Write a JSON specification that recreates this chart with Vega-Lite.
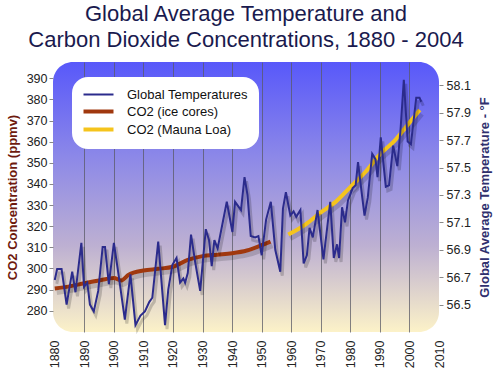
{
  "$schema": "https://vega.github.io/schema/vega-lite/v6.json",
  "width": 386,
  "height": 270,
  "autosize": "none",
  "padding": {"left": 53, "top": 62, "right": 61, "bottom": 48},
  "background": "white",
  "title": {
    "text": ["Global Average Temperature and", "Carbon Dioxide Concentrations, 1880 - 2004"],
    "fontSize": 22,
    "font": "Liberation Sans",
    "fontWeight": "normal",
    "color": "#1a1a4e",
    "lineHeight": 26.5,
    "offset": 10,
    "anchor": "middle"
  },
  "datasets": {
    "temp": [
      {"year": 1880.0, "temp": 56.68, "series": "Global Temperatures"},
      {"year": 1880.8, "temp": 56.76, "series": "Global Temperatures"},
      {"year": 1882.3, "temp": 56.76, "series": "Global Temperatures"},
      {"year": 1884.0, "temp": 56.50, "series": "Global Temperatures"},
      {"year": 1885.9, "temp": 56.74, "series": "Global Temperatures"},
      {"year": 1887.0, "temp": 56.59, "series": "Global Temperatures"},
      {"year": 1889.0, "temp": 56.95, "series": "Global Temperatures"},
      {"year": 1889.9, "temp": 56.63, "series": "Global Temperatures"},
      {"year": 1891.0, "temp": 56.66, "series": "Global Temperatures"},
      {"year": 1891.9, "temp": 56.50, "series": "Global Temperatures"},
      {"year": 1893.2, "temp": 56.45, "series": "Global Temperatures"},
      {"year": 1894.7, "temp": 56.60, "series": "Global Temperatures"},
      {"year": 1896.2, "temp": 56.92, "series": "Global Temperatures"},
      {"year": 1897.0, "temp": 56.92, "series": "Global Temperatures"},
      {"year": 1898.3, "temp": 56.65, "series": "Global Temperatures"},
      {"year": 1900.0, "temp": 56.95, "series": "Global Temperatures"},
      {"year": 1901.5, "temp": 56.73, "series": "Global Temperatures"},
      {"year": 1903.7, "temp": 56.39, "series": "Global Temperatures"},
      {"year": 1905.6, "temp": 56.72, "series": "Global Temperatures"},
      {"year": 1907.3, "temp": 56.35, "series": "Global Temperatures"},
      {"year": 1909.0, "temp": 56.42, "series": "Global Temperatures"},
      {"year": 1910.5, "temp": 56.45, "series": "Global Temperatures"},
      {"year": 1912.0, "temp": 56.52, "series": "Global Temperatures"},
      {"year": 1913.0, "temp": 56.55, "series": "Global Temperatures"},
      {"year": 1915.0, "temp": 56.96, "series": "Global Temperatures"},
      {"year": 1917.3, "temp": 56.35, "series": "Global Temperatures"},
      {"year": 1918.4, "temp": 56.61, "series": "Global Temperatures"},
      {"year": 1919.8, "temp": 56.79, "series": "Global Temperatures"},
      {"year": 1921.2, "temp": 56.84, "series": "Global Temperatures"},
      {"year": 1922.4, "temp": 56.66, "series": "Global Temperatures"},
      {"year": 1923.5, "temp": 56.69, "series": "Global Temperatures"},
      {"year": 1924.1, "temp": 56.66, "series": "Global Temperatures"},
      {"year": 1925.0, "temp": 56.73, "series": "Global Temperatures"},
      {"year": 1926.1, "temp": 57.01, "series": "Global Temperatures"},
      {"year": 1927.5, "temp": 56.81, "series": "Global Temperatures"},
      {"year": 1929.2, "temp": 56.60, "series": "Global Temperatures"},
      {"year": 1931.1, "temp": 57.05, "series": "Global Temperatures"},
      {"year": 1932.2, "temp": 56.97, "series": "Global Temperatures"},
      {"year": 1933.1, "temp": 56.78, "series": "Global Temperatures"},
      {"year": 1934.0, "temp": 56.97, "series": "Global Temperatures"},
      {"year": 1935.1, "temp": 56.91, "series": "Global Temperatures"},
      {"year": 1938.2, "temp": 57.25, "series": "Global Temperatures"},
      {"year": 1940.1, "temp": 57.03, "series": "Global Temperatures"},
      {"year": 1941.0, "temp": 57.25, "series": "Global Temperatures"},
      {"year": 1943.0, "temp": 57.19, "series": "Global Temperatures"},
      {"year": 1944.2, "temp": 57.43, "series": "Global Temperatures"},
      {"year": 1945.2, "temp": 57.30, "series": "Global Temperatures"},
      {"year": 1946.3, "temp": 57.00, "series": "Global Temperatures"},
      {"year": 1947.8, "temp": 56.99, "series": "Global Temperatures"},
      {"year": 1948.9, "temp": 57.00, "series": "Global Temperatures"},
      {"year": 1950.0, "temp": 56.86, "series": "Global Temperatures"},
      {"year": 1951.5, "temp": 57.12, "series": "Global Temperatures"},
      {"year": 1953.1, "temp": 57.25, "series": "Global Temperatures"},
      {"year": 1954.6, "temp": 56.90, "series": "Global Temperatures"},
      {"year": 1956.3, "temp": 56.74, "series": "Global Temperatures"},
      {"year": 1957.2, "temp": 57.20, "series": "Global Temperatures"},
      {"year": 1958.2, "temp": 57.32, "series": "Global Temperatures"},
      {"year": 1959.7, "temp": 57.15, "series": "Global Temperatures"},
      {"year": 1960.8, "temp": 57.18, "series": "Global Temperatures"},
      {"year": 1961.7, "temp": 57.14, "series": "Global Temperatures"},
      {"year": 1963.1, "temp": 57.19, "series": "Global Temperatures"},
      {"year": 1964.2, "temp": 56.80, "series": "Global Temperatures"},
      {"year": 1965.3, "temp": 56.86, "series": "Global Temperatures"},
      {"year": 1966.2, "temp": 57.06, "series": "Global Temperatures"},
      {"year": 1967.3, "temp": 56.99, "series": "Global Temperatures"},
      {"year": 1968.9, "temp": 57.19, "series": "Global Temperatures"},
      {"year": 1970.9, "temp": 56.83, "series": "Global Temperatures"},
      {"year": 1973.2, "temp": 57.25, "series": "Global Temperatures"},
      {"year": 1974.4, "temp": 56.84, "series": "Global Temperatures"},
      {"year": 1975.5, "temp": 56.94, "series": "Global Temperatures"},
      {"year": 1976.2, "temp": 56.84, "series": "Global Temperatures"},
      {"year": 1977.2, "temp": 57.21, "series": "Global Temperatures"},
      {"year": 1978.2, "temp": 57.10, "series": "Global Temperatures"},
      {"year": 1979.2, "temp": 57.26, "series": "Global Temperatures"},
      {"year": 1980.8, "temp": 57.35, "series": "Global Temperatures"},
      {"year": 1981.8, "temp": 57.37, "series": "Global Temperatures"},
      {"year": 1982.6, "temp": 57.54, "series": "Global Temperatures"},
      {"year": 1983.7, "temp": 57.34, "series": "Global Temperatures"},
      {"year": 1984.8, "temp": 57.15, "series": "Global Temperatures"},
      {"year": 1985.9, "temp": 57.28, "series": "Global Temperatures"},
      {"year": 1987.4, "temp": 57.60, "series": "Global Temperatures"},
      {"year": 1988.5, "temp": 57.56, "series": "Global Temperatures"},
      {"year": 1989.2, "temp": 57.43, "series": "Global Temperatures"},
      {"year": 1990.3, "temp": 57.72, "series": "Global Temperatures"},
      {"year": 1992.0, "temp": 57.36, "series": "Global Temperatures"},
      {"year": 1993.1, "temp": 57.37, "series": "Global Temperatures"},
      {"year": 1994.5, "temp": 57.66, "series": "Global Temperatures"},
      {"year": 1995.9, "temp": 57.51, "series": "Global Temperatures"},
      {"year": 1997.0, "temp": 57.78, "series": "Global Temperatures"},
      {"year": 1998.1, "temp": 58.14, "series": "Global Temperatures"},
      {"year": 1999.4, "temp": 57.69, "series": "Global Temperatures"},
      {"year": 2000.5, "temp": 57.67, "series": "Global Temperatures"},
      {"year": 2002.3, "temp": 58.01, "series": "Global Temperatures"},
      {"year": 2003.4, "temp": 58.01, "series": "Global Temperatures"},
      {"year": 2004.0, "temp": 57.98, "series": "Global Temperatures"}
    ],
    "co2": [
      {"year": 1880, "co2": 290.5, "series": "CO2 (ice cores)"},
      {"year": 1885, "co2": 291.5, "series": "CO2 (ice cores)"},
      {"year": 1890, "co2": 293.0, "series": "CO2 (ice cores)"},
      {"year": 1895, "co2": 294.3, "series": "CO2 (ice cores)"},
      {"year": 1900, "co2": 295.5, "series": "CO2 (ice cores)"},
      {"year": 1902.5, "co2": 294.3, "series": "CO2 (ice cores)"},
      {"year": 1905, "co2": 297.0, "series": "CO2 (ice cores)"},
      {"year": 1910, "co2": 299.0, "series": "CO2 (ice cores)"},
      {"year": 1915, "co2": 299.8, "series": "CO2 (ice cores)"},
      {"year": 1920, "co2": 300.8, "series": "CO2 (ice cores)"},
      {"year": 1925, "co2": 304.0, "series": "CO2 (ice cores)"},
      {"year": 1930, "co2": 305.8, "series": "CO2 (ice cores)"},
      {"year": 1935, "co2": 306.5, "series": "CO2 (ice cores)"},
      {"year": 1940, "co2": 307.2, "series": "CO2 (ice cores)"},
      {"year": 1945, "co2": 308.5, "series": "CO2 (ice cores)"},
      {"year": 1950, "co2": 311.0, "series": "CO2 (ice cores)"},
      {"year": 1953, "co2": 312.7, "series": "CO2 (ice cores)"},
      {"year": 1959, "co2": 316.0, "series": "CO2 (Mauna Loa)"},
      {"year": 1965, "co2": 321.0, "series": "CO2 (Mauna Loa)"},
      {"year": 1970, "co2": 326.5, "series": "CO2 (Mauna Loa)"},
      {"year": 1975, "co2": 331.5, "series": "CO2 (Mauna Loa)"},
      {"year": 1980, "co2": 338.5, "series": "CO2 (Mauna Loa)"},
      {"year": 1985, "co2": 345.5, "series": "CO2 (Mauna Loa)"},
      {"year": 1990, "co2": 354.0, "series": "CO2 (Mauna Loa)"},
      {"year": 1995, "co2": 360.5, "series": "CO2 (Mauna Loa)"},
      {"year": 2000, "co2": 369.0, "series": "CO2 (Mauna Loa)"},
      {"year": 2003.5, "co2": 375.0, "series": "CO2 (Mauna Loa)"}
    ]
  },
  "encoding": {
    "x": {
      "field": "year",
      "type": "quantitative",
      "scale": {"domain": [1879.4, 2010], "nice": false, "zero": false},
      "axis": {
        "title": null,
        "values": [1880, 1890, 1900, 1910, 1920, 1930, 1940, 1950, 1960, 1970, 1980, 1990, 2000, 2010],
        "format": "d",
        "labelAngle": -90,
        "labelPadding": 8,
        "labelFontSize": 12.5,
        "labelFont": "Liberation Sans",
        "labelColor": "#222222",
        "ticks": false,
        "domain": false,
        "grid": true,
        "gridColor": "#5a5a66",
        "gridWidth": 1,
        "gridOpacity": {"condition": {"test": "datum.value == 1880 || datum.value == 2010", "value": 0}, "value": 0.75}
      }
    }
  },
  "layer": [
    {
      "data": {"name": "co2"},
      "encoding": {
        "y": {
          "field": "co2",
          "type": "quantitative",
          "scale": {"domain": [269.9, 397.7], "nice": false, "zero": false},
          "axis": {
            "orient": "left",
            "title": "CO2 Concentration (ppmv)",
            "titleFont": "Liberation Sans",
            "titleFontSize": 13,
            "titleFontWeight": "bold",
            "titleColor": "#6e1a0e",
            "titlePadding": 7,
            "values": [280, 290, 300, 310, 320, 330, 340, 350, 360, 370, 380, 390],
            "labelFont": "Liberation Sans",
            "labelFontSize": 12.5,
            "labelColor": "#222222",
            "labelPadding": 2,
            "tickSize": 4,
            "tickColor": "#888888",
            "domain": false,
            "grid": false
          }
        }
      },
      "layer": [
        {
          "mark": {"type": "line", "strokeWidth": 5, "color": "#000000", "opacity": 0.15, "xOffset": 2, "yOffset": 4, "interpolate": "monotone"},
          "encoding": {"detail": {"field": "series", "type": "nominal"}}
        },
        {
          "mark": {"type": "line", "strokeWidth": 4, "interpolate": "monotone"},
          "encoding": {
            "color": {
              "field": "series",
              "type": "nominal",
              "scale": {"domain": ["Global Temperatures", "CO2 (ice cores)", "CO2 (Mauna Loa)"], "range": ["#2b2b8c", "#a0380e", "#f5c41c"]},
              "legend": {
                "orient": "none",
                "legendX": 19,
                "legendY": 15,
                "title": null,
                "symbolType": "stroke",
                "symbolSize": 900,
                "symbolOffset": 9,
                "symbolStrokeWidth": 4,
                "labelFont": "Liberation Sans",
                "labelFontSize": 13,
                "labelColor": "#111111",
                "labelOffset": 22,
                "fillColor": "#ffffff",
                "cornerRadius": 16,
                "padding": 11,
                "rowPadding": 1,
                "encode": {"symbols": {"update": {"strokeWidth": {"signal": "datum.value === 'Global Temperatures' ? 2 : 4"}}}}
              }
            }
          }
        }
      ]
    },
    {
      "data": {"name": "temp"},
      "encoding": {
        "y": {
          "field": "temp",
          "type": "quantitative",
          "scale": {"domain": [56.3, 58.27], "nice": false, "zero": false},
          "axis": {
            "orient": "right",
            "title": "Global Average Temperature - °F",
            "titleFont": "Liberation Sans",
            "titleFontSize": 13,
            "titleFontWeight": "bold",
            "titleColor": "#30306e",
            "titleAngle": 270,
            "titlePadding": 21,
            "values": [56.5, 56.7, 56.9, 57.1, 57.3, 57.5, 57.7, 57.9, 58.1],
            "format": ".1f",
            "labelFont": "Liberation Sans",
            "labelFontSize": 12.5,
            "labelColor": "#222222",
            "labelPadding": 3,
            "tickSize": 4,
            "tickColor": "#888888",
            "domain": false,
            "grid": false
          }
        }
      },
      "layer": [
        {
          "mark": {"type": "line", "strokeWidth": 3, "color": "#000000", "opacity": 0.18, "xOffset": 2, "yOffset": 4}
        },
        {
          "mark": {"type": "line", "strokeWidth": 2},
          "encoding": {
            "color": {
              "field": "series",
              "type": "nominal",
              "scale": {"domain": ["Global Temperatures", "CO2 (ice cores)", "CO2 (Mauna Loa)"], "range": ["#2b2b8c", "#a0380e", "#f5c41c"]}
            }
          }
        }
      ]
    }
  ],
  "resolve": {"scale": {"y": "independent"}},
  "config": {
    "view": {
      "stroke": null,
      "cornerRadius": 20,
      "fill": {
        "gradient": "linear",
        "x1": 0, "y1": 0, "x2": 0, "y2": 1,
        "stops": [
          {"offset": 0, "color": "#5858fa"},
          {"offset": 0.35, "color": "#8c88e8"},
          {"offset": 0.68, "color": "#bdb0d2"},
          {"offset": 1, "color": "#fcf2c8"}
        ]
      }
    }
  }
}
